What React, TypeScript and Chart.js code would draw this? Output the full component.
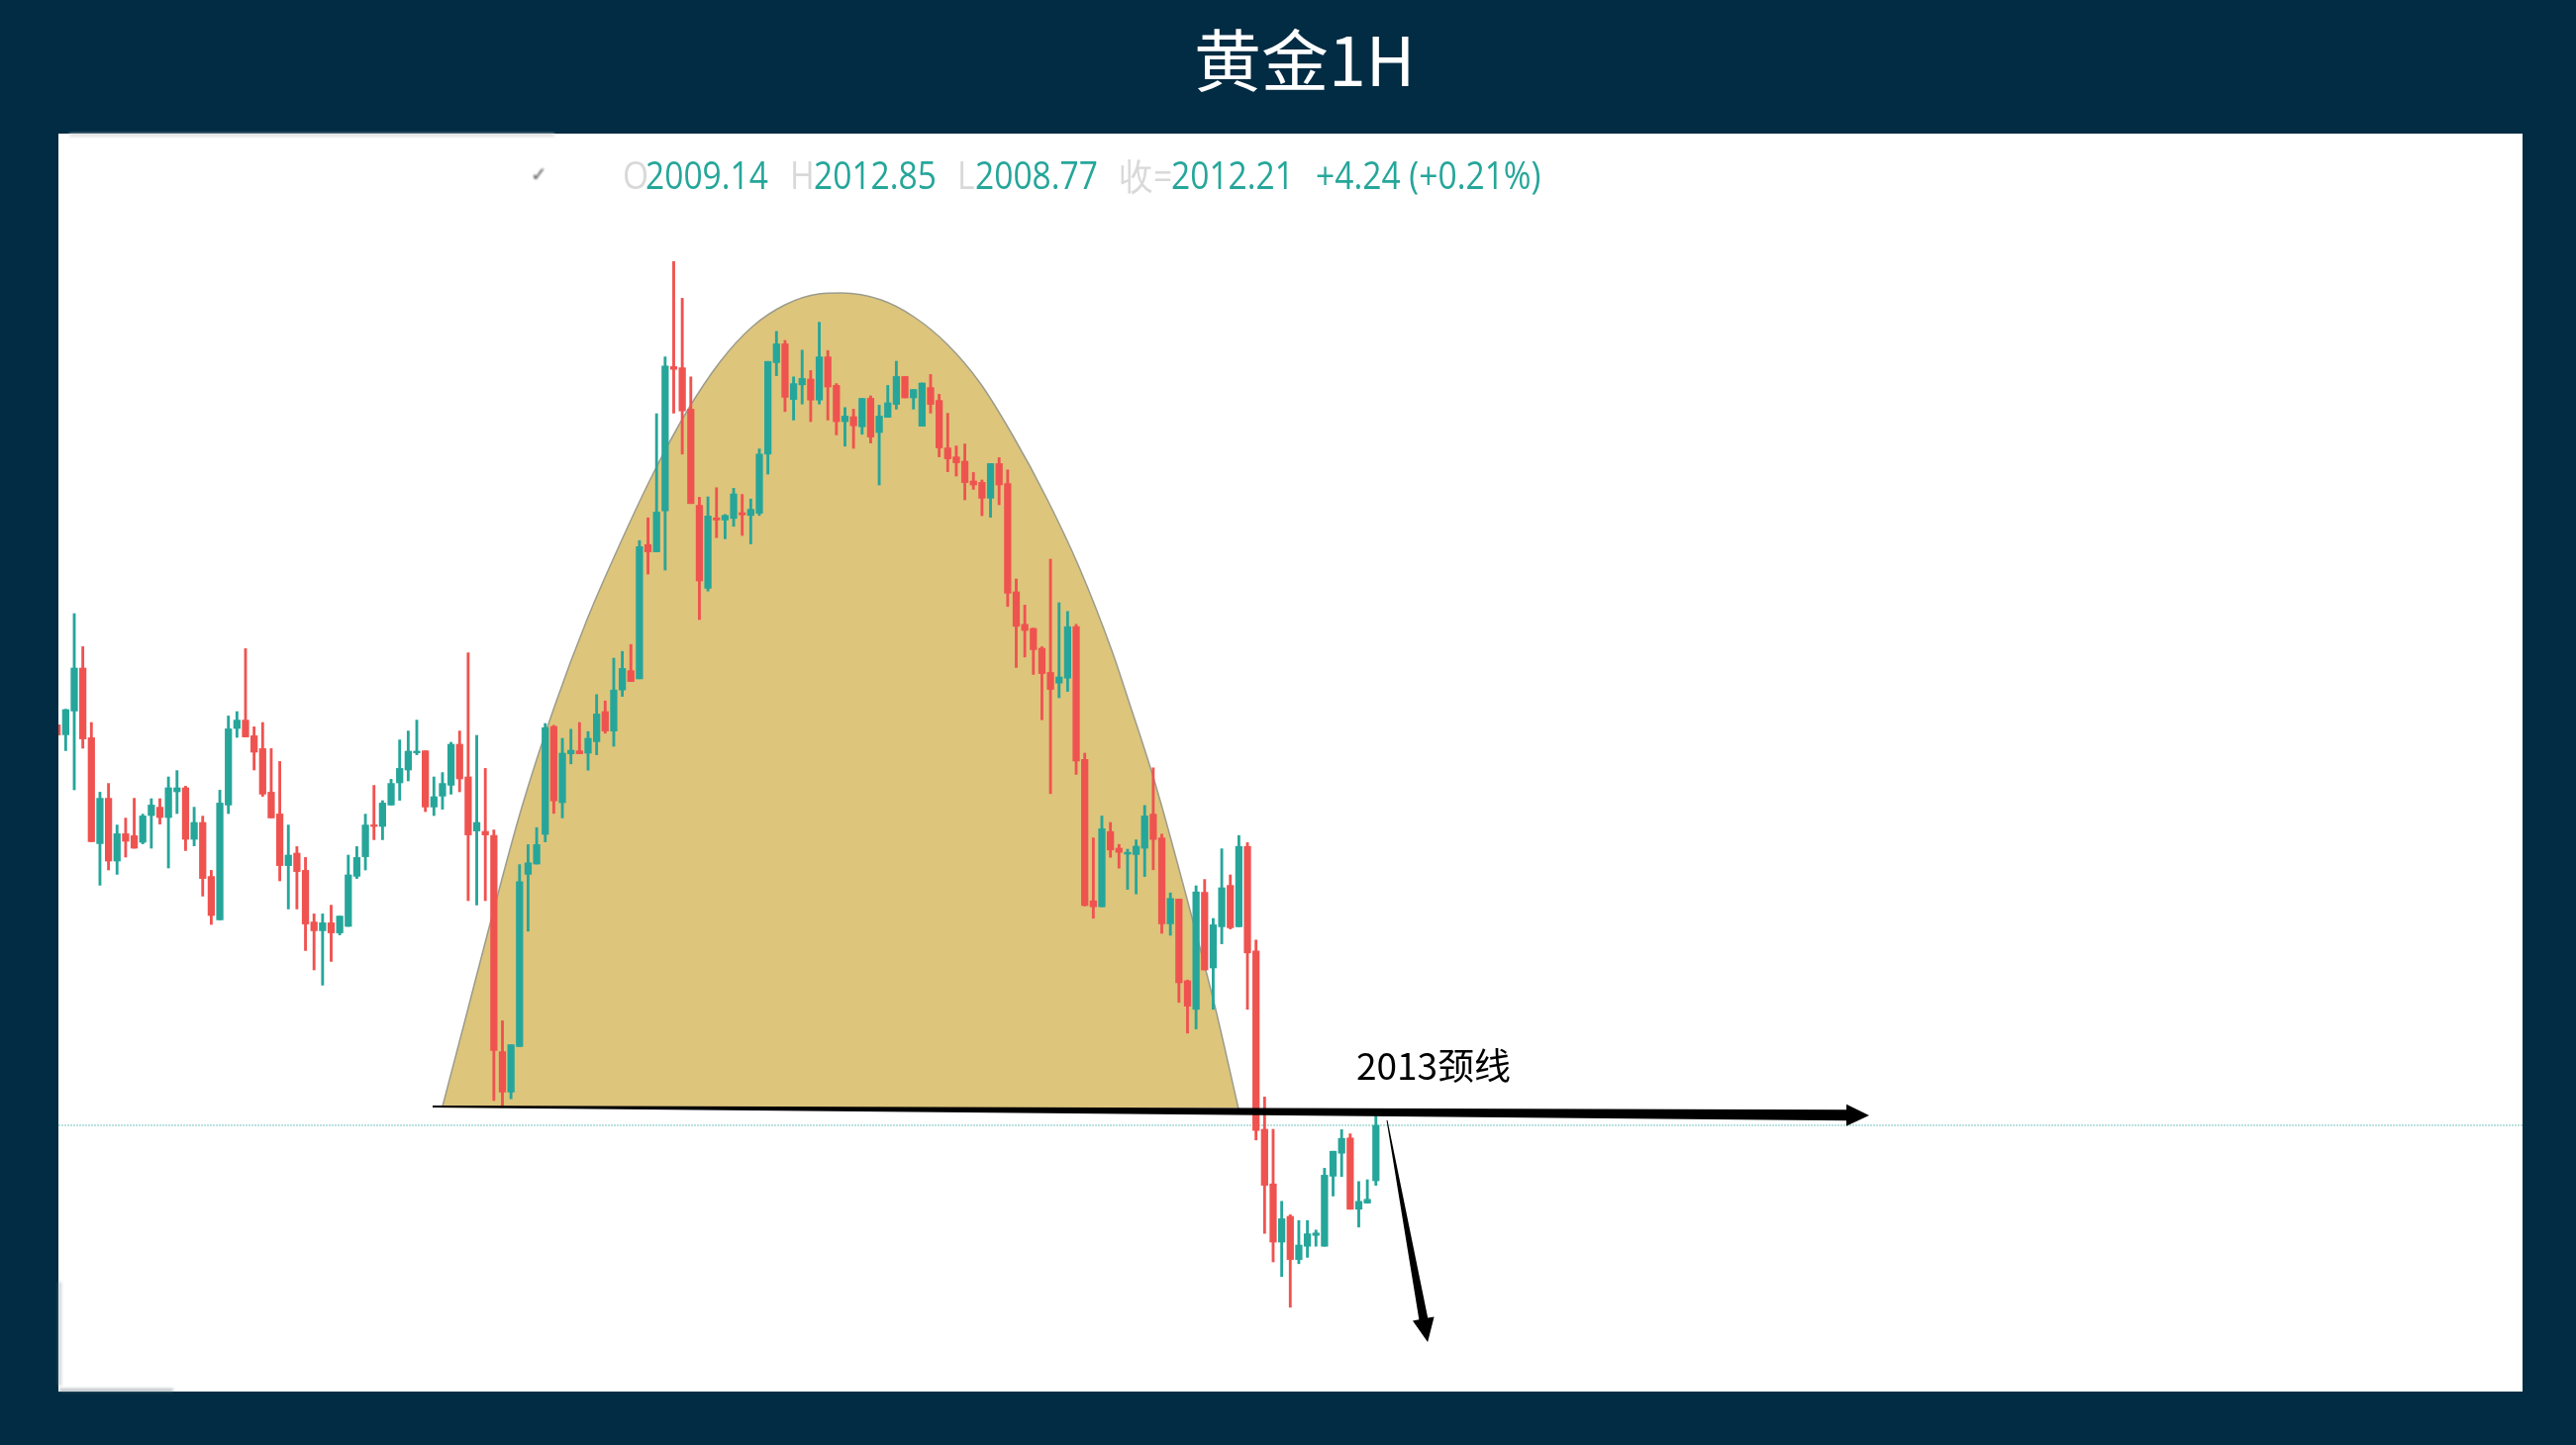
import React, { useEffect, useRef } from 'react';
import { Chart, registerables } from 'chart.js';

Chart.register(...registerables);

const opens = [
  2032.44, 2031.94, 2033.14, 2035.31, 2031.79, 2026.44, 2028.73, 2025.56, 2026.94, 2026.84,
  2026.51, 2027.86, 2028.28, 2027.76, 2029.06, 2029.26, 2026.66, 2027.51, 2024.78, 2022.59,
  2028.39, 2032.26, 2032.68, 2031.89, 2031.24, 2029.04, 2027.94, 2025.33, 2025.96, 2025.09,
  2022.48, 2022.04, 2022.44, 2021.93, 2022.26, 2024.79, 2025.78, 2027.39, 2027.31, 2028.39,
  2029.51, 2030.16, 2031.03, 2031.13, 2028.29, 2028.84, 2029.39, 2031.46, 2029.81, 2027.08,
  2027.06, 2026.85, 2015.93, 2013.89, 2016.19, 2024.89, 2025.41, 2026.91, 2032.36, 2028.51,
  2030.98, 2031.13, 2031.01, 2031.59, 2033.11, 2032.13, 2034.20, 2035.18, 2034.77, 2041.55,
  2041.18, 2043.25, 2050.54, 2050.48, 2048.39, 2043.53, 2039.34, 2042.90, 2042.79, 2042.87,
  2043.16, 2043.02, 2043.13, 2046.12, 2050.74, 2051.69, 2048.88, 2049.62, 2049.91, 2048.85,
  2051.03, 2049.59, 2047.76, 2048.01, 2047.50, 2048.94, 2047.21, 2047.98, 2048.63, 2050.04,
  2048.96, 2047.53, 2049.48, 2048.83, 2046.43, 2045.98, 2045.76, 2044.76, 2044.69, 2043.89,
  2045.64, 2044.63, 2039.16, 2037.52, 2037.31, 2036.31, 2035.09, 2034.55, 2034.80, 2037.40,
  2030.69, 2023.55, 2023.25, 2027.05, 2026.21, 2025.91, 2025.89, 2026.21, 2027.93, 2026.73,
  2022.39, 2023.64, 2019.51, 2018.07, 2023.98, 2020.16, 2022.24, 2024.33, 2022.24, 2026.30,
  2021.02, 2012.01, 2009.25, 2006.31, 2007.61, 2005.43, 2006.10, 2006.65, 2006.10, 2009.64,
  2010.80, 2011.57, 2007.97, 2008.28, 2009.41,
];

const closes = [
  2031.93, 2033.21, 2035.31, 2031.73, 2026.54, 2028.73, 2025.56, 2026.94, 2026.56, 2026.21,
  2027.84, 2028.39, 2027.76, 2029.26, 2029.26, 2026.66, 2027.51, 2024.68, 2022.81, 2028.49,
  2032.24, 2032.68, 2031.83, 2031.06, 2028.94, 2027.74, 2025.33, 2025.86, 2025.03, 2022.38,
  2022.04, 2022.44, 2021.93, 2022.78, 2024.86, 2025.74, 2027.38, 2027.31, 2028.49, 2029.48,
  2030.24, 2031.11, 2031.11, 2028.29, 2028.81, 2029.48, 2031.46, 2029.71, 2026.88, 2027.51,
  2026.88, 2015.99, 2013.89, 2016.28, 2024.52, 2025.47, 2026.39, 2032.30, 2028.60, 2031.01,
  2031.16, 2030.98, 2031.76, 2032.99, 2032.13, 2034.20, 2035.29, 2034.63, 2041.44, 2041.18,
  2043.19, 2050.57, 2050.40, 2048.30, 2043.62, 2039.71, 2042.99, 2042.79, 2043.02, 2044.11,
  2043.05, 2043.33, 2046.12, 2050.80, 2051.69, 2048.99, 2049.68, 2049.94, 2048.85, 2051.03,
  2049.51, 2047.76, 2048.04, 2047.55, 2048.93, 2046.98, 2048.04, 2048.71, 2050.04, 2048.96,
  2049.38, 2049.71, 2048.63, 2046.43, 2045.88, 2045.68, 2044.68, 2044.56, 2043.89, 2045.64,
  2044.56, 2039.09, 2037.42, 2037.21, 2036.24, 2035.03, 2034.23, 2034.86, 2037.40, 2030.61,
  2023.32, 2023.25, 2027.19, 2026.12, 2026.00, 2026.00, 2026.31, 2027.84, 2026.65, 2022.39,
  2023.67, 2019.41, 2018.23, 2024.00, 2020.06, 2022.34, 2024.21, 2022.19, 2026.30, 2020.92,
  2011.95, 2009.18, 2006.31, 2007.49, 2005.43, 2006.16, 2006.73, 2006.77, 2009.69, 2010.90,
  2011.55, 2007.97, 2008.37, 2008.47, 2012.21,
];

const highs = [
  2032.44, 2033.23, 2038.06, 2036.39, 2032.56, 2029.04, 2029.48, 2027.38, 2027.73, 2028.73,
  2027.93, 2028.71, 2028.71, 2029.81, 2030.13, 2029.34, 2028.28, 2027.83, 2025.09, 2029.14,
  2032.89, 2033.11, 2036.29, 2032.34, 2032.56, 2031.24, 2030.59, 2027.38, 2026.29, 2025.74,
  2022.89, 2022.89, 2023.33, 2022.78, 2025.86, 2026.29, 2027.93, 2029.38, 2028.61, 2029.69,
  2031.68, 2032.13, 2032.68, 2031.13, 2029.81, 2030.03, 2031.56, 2032.13, 2036.08, 2031.91,
  2030.24, 2027.13, 2017.49, 2016.28, 2025.38, 2026.39, 2027.25, 2032.51, 2032.42, 2031.76,
  2032.22, 2032.56, 2032.10, 2033.97, 2033.65, 2035.81, 2036.15, 2036.50, 2041.75, 2042.90,
  2048.16, 2051.03, 2055.85, 2053.99, 2050.02, 2043.94, 2043.96, 2044.42, 2043.07, 2044.39,
  2044.08, 2043.85, 2046.38, 2050.80, 2052.32, 2051.86, 2050.02, 2051.37, 2050.34, 2052.78,
  2051.35, 2049.68, 2048.47, 2048.39, 2048.93, 2049.06, 2048.59, 2049.59, 2050.81, 2050.04,
  2049.38, 2049.71, 2050.14, 2049.14, 2048.18, 2046.53, 2046.63, 2045.19, 2044.81, 2045.64,
  2045.94, 2045.32, 2039.81, 2038.49, 2037.33, 2036.39, 2040.81, 2038.61, 2038.17, 2037.52,
  2031.01, 2026.73, 2027.84, 2027.51, 2026.40, 2026.16, 2026.63, 2028.37, 2030.27, 2026.92,
  2023.95, 2023.64, 2019.55, 2024.31, 2024.63, 2022.66, 2026.18, 2024.86, 2026.85, 2026.49,
  2021.57, 2013.64, 2012.01, 2008.37, 2007.69, 2007.40, 2007.40, 2006.92, 2010.04, 2010.90,
  2011.99, 2011.78, 2009.37, 2009.46, 2012.72,
];

const lows = [
  2031.93, 2031.14, 2029.16, 2031.26, 2026.54, 2024.34, 2025.11, 2024.89, 2025.76, 2026.21,
  2026.43, 2026.21, 2027.43, 2025.21, 2027.96, 2026.09, 2026.33, 2023.79, 2022.36, 2022.59,
  2027.96, 2031.81, 2031.83, 2030.16, 2028.83, 2027.74, 2024.56, 2023.14, 2023.14, 2021.04,
  2020.06, 2019.29, 2020.49, 2021.83, 2022.26, 2024.68, 2025.11, 2026.64, 2026.64, 2028.39,
  2028.63, 2029.61, 2030.93, 2028.06, 2027.86, 2028.18, 2028.94, 2029.06, 2023.56, 2023.34,
  2023.56, 2013.46, 2013.12, 2013.55, 2016.19, 2022.02, 2025.41, 2026.53, 2027.97, 2027.74,
  2030.47, 2030.98, 2030.15, 2030.93, 2032.02, 2031.36, 2033.88, 2034.63, 2034.77, 2040.06,
  2041.18, 2040.26, 2048.19, 2046.12, 2043.62, 2037.76, 2039.20, 2041.90, 2041.84, 2042.47,
  2042.01, 2041.58, 2043.02, 2045.11, 2050.08, 2048.27, 2047.84, 2048.65, 2047.76, 2048.65,
  2047.84, 2047.09, 2046.52, 2046.41, 2047.12, 2046.68, 2044.56, 2047.98, 2048.39, 2048.96,
  2048.39, 2047.53, 2048.19, 2045.98, 2045.23, 2045.01, 2043.81, 2044.34, 2043.01, 2042.93,
  2043.56, 2038.42, 2035.34, 2035.87, 2034.99, 2032.70, 2028.97, 2033.81, 2034.13, 2029.94,
  2023.29, 2022.67, 2023.25, 2025.75, 2025.20, 2024.13, 2023.90, 2024.78, 2025.12, 2021.91,
  2021.81, 2018.42, 2016.87, 2017.08, 2020.06, 2018.07, 2021.38, 2022.13, 2022.24, 2018.07,
  2011.47, 2006.75, 2005.31, 2004.57, 2003.02, 2005.22, 2005.54, 2006.10, 2006.10, 2008.64,
  2009.62, 2007.97, 2007.07, 2008.28, 2009.18,
];

// rounded top shape, in candle index and price
const bowlIndex = [
  45.0, 47.66, 50.78, 54.25, 58.07, 61.88, 65.81, 69.63, 73.45, 77.38, 81.19, 85.0, 88.93, 91.59,
  96.22, 100.03, 103.96, 107.78, 111.59, 115.53, 119.34, 123.15, 125.12, 128.24, 132.06, 135.18, 137.95,
];
const bowlPrice = [
  2013.16, 2017.56, 2022.76, 2028.26, 2033.36, 2037.76, 2041.66, 2045.16, 2048.21, 2050.76, 2052.56,
  2053.66, 2054.21, 2054.26, 2053.91, 2053.06, 2051.66, 2049.71, 2047.06, 2043.91, 2040.41, 2036.21,
  2033.66, 2029.46, 2023.46, 2018.26, 2013.06,
];

const lastPrice = 2012.21;
const neckLabel = '2013颈线';
const neckArrowIndex = [43.85, 211.6];
const neckArrowPrice = [2013.16, 2012.71];
const dropArrowIndex = [155.3, 160.05];
const dropArrowPrice = [2012.46, 2001.26];

const xMin = 0.15;
const xMax = 287.9;
const yMin = 1998.76;
const yMax = 2062.31;

const UP = '#26A69A';
const DOWN = '#EF5350';
const NAVY = '#022C43';

const legendParts = [
  { text: 'O', left: 629, color: '#d9d9d9' },
  { text: '2009.14', left: 652, color: UP },
  { text: 'H', left: 798, color: '#d9d9d9' },
  { text: '2012.85', left: 822, color: UP },
  { text: 'L', left: 967, color: '#d9d9d9' },
  { text: '2008.77', left: 985, color: UP },
  { text: '收=', left: 1131, color: '#d9d9d9' },
  { text: '2012.21', left: 1183, color: UP },
  { text: '+4.24 (+0.21%)', left: 1329, color: UP },
];

const drawArrow = (
  ctx: CanvasRenderingContext2D,
  x0: number, y0: number, x1: number, y1: number,
  startW: number, endW: number, headLen: number, headW: number,
) => {
  const len = Math.hypot(x1 - x0, y1 - y0);
  const ux = (x1 - x0) / len;
  const uy = (y1 - y0) / len;
  const nx = -uy;
  const ny = ux;
  const bx = x1 - ux * headLen;
  const by = y1 - uy * headLen;
  ctx.beginPath();
  ctx.moveTo(x0 + nx * startW / 2, y0 + ny * startW / 2);
  ctx.lineTo(bx + nx * endW / 2, by + ny * endW / 2);
  ctx.lineTo(bx + nx * headW, by + ny * headW);
  ctx.lineTo(x1, y1);
  ctx.lineTo(bx - nx * headW, by - ny * headW);
  ctx.lineTo(bx - nx * endW / 2, by - ny * endW / 2);
  ctx.lineTo(x0 - nx * startW / 2, y0 - ny * startW / 2);
  ctx.closePath();
  ctx.fill();
};

const panelPlugin = {
  id: 'panel',
  beforeDraw(chart: any) {
    const { ctx, chartArea: a } = chart;
    ctx.save();
    ctx.fillStyle = '#ffffff';
    ctx.fillRect(a.left, a.top, a.right - a.left, a.bottom - a.top);
    ctx.restore();
  },
  afterDatasetsDraw(chart: any) {
    const { ctx } = chart;
    const x = chart.scales.x;
    const y = chart.scales.y;
    ctx.save();
    ctx.fillStyle = '#000000';
    drawArrow(ctx,
      x.getPixelForValue(neckArrowIndex[0]), y.getPixelForValue(neckArrowPrice[0]),
      x.getPixelForValue(neckArrowIndex[1]), y.getPixelForValue(neckArrowPrice[1]),
      2, 11, 23, 11);
    drawArrow(ctx,
      x.getPixelForValue(dropArrowIndex[0]), y.getPixelForValue(dropArrowPrice[0]),
      x.getPixelForValue(dropArrowIndex[1]), y.getPixelForValue(dropArrowPrice[1]),
      1, 9, 24, 11);
    ctx.font = '37px "Noto Sans CJK SC"';
    ctx.textBaseline = 'middle';
    ctx.fillText(neckLabel, x.getPixelForValue(151.7), y.getPixelForValue(2015.21));
    ctx.restore();
  },
};

export default function App() {
  const chartRef = useRef<HTMLCanvasElement>(null);

  useEffect(() => {
    document.body.style.margin = '0';
    if (!chartRef.current) return;
    const colors = opens.map((o, i) => (closes[i] >= o ? UP : DOWN));

    const chart = new Chart(chartRef.current, {
      type: 'bar',
      data: {
        datasets: [
          {
            type: 'bar',
            label: 'body',
            data: opens.map((o, i) => ({ x: i, y: [o, closes[i]] })),
            backgroundColor: colors,
            barThickness: 6.6,
            grouped: false,
            order: 1,
          },
          {
            type: 'bar',
            label: 'wick',
            data: lows.map((l, i) => ({ x: i, y: [l, highs[i]] })),
            backgroundColor: colors,
            barThickness: 2.2,
            grouped: false,
            order: 2,
          },
          {
            type: 'line',
            label: 'bowl',
            data: bowlIndex.map((b, i) => ({ x: b, y: bowlPrice[i] })),
            borderColor: '#9c9c8c',
            borderWidth: 1.5,
            backgroundColor: '#DDC57C',
            fill: { value: 2013.1 },
            cubicInterpolationMode: 'monotone',
            pointRadius: 0,
            order: 3,
          },
          {
            type: 'line',
            label: 'last',
            data: [{ x: xMin, y: lastPrice }, { x: xMax, y: lastPrice }],
            borderColor: '#a2d8d3',
            borderWidth: 1.5,
            borderDash: [2, 1],
            pointRadius: 0,
            order: 4,
          },
        ],
      } as any,
      options: {
        responsive: false,
        animation: false,
        devicePixelRatio: 1,
        layout: { padding: { left: 59, right: 54, top: 135, bottom: 54 } },
        plugins: { legend: { display: false }, tooltip: { enabled: false } },
        scales: {
          x: { type: 'linear', display: false, offset: false, min: xMin, max: xMax },
          y: { display: false, min: yMin, max: yMax },
        },
      },
      plugins: [panelPlugin],
    });

    return () => chart.destroy();
  }, []);

  return (
    <div style={{ position: 'absolute', left: 0, top: 0, width: 2602, height: 1460, background: NAVY, overflow: 'hidden' }}>
      <canvas ref={chartRef} width={2602} height={1460} style={{ display: 'block' }} />
      <div style={{ position: 'absolute', left: 1206, top: 18, lineHeight: '80px', fontSize: 68, color: '#fff', fontFamily: '"Noto Sans CJK SC"', whiteSpace: 'nowrap' }}>
        黄金1H
      </div>
      {legendParts.map((p) => (
        <span key={p.left} style={{ position: 'absolute', left: p.left, top: 154, lineHeight: '44px', fontSize: 33.6, color: p.color, fontFamily: '"Open Sans"', whiteSpace: 'nowrap', transform: 'scaleY(1.12)' }}>
          {p.text}
        </span>
      ))}
      {/* leftovers of the cropped-out toolbar in the screenshot */}
      <div style={{ position: 'absolute', left: 70, top: 135, width: 490, height: 3, background: '#dcdcdc', filter: 'blur(1.5px)' }} />
      <span style={{ position: 'absolute', left: 536, top: 164, lineHeight: '24px', fontSize: 20, color: '#555', fontFamily: '"DejaVu Sans"', filter: 'blur(0.8px)' }}>✓</span>
      <div style={{ position: 'absolute', left: 59, top: 1295, width: 3, height: 105, background: '#9aa6ad', opacity: 0.5, filter: 'blur(1.5px)' }} />
      <div style={{ position: 'absolute', left: 60, top: 1403, width: 115, height: 3, background: '#7f8c94', opacity: 0.6, filter: 'blur(1.5px)' }} />
    </div>
  );
}
